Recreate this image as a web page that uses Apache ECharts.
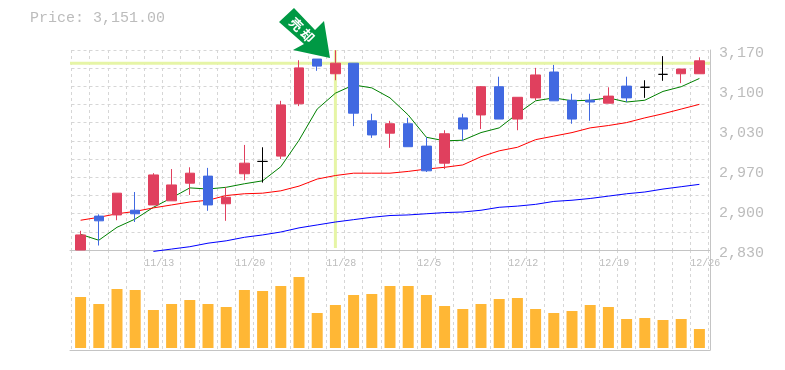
<!DOCTYPE html>
<html>
<head>
<meta charset="utf-8">
<style>
  html, body { margin: 0; padding: 0; background: #fff; }
  #chart { width: 785px; height: 370px; }
</style>
<script src="https://cdn.jsdelivr.net/npm/echarts@6/dist/echarts.min.js"></script>
</head>
<body>
<div id="chart"></div>
<script>
const dates = [
  "11/7", "11/8", "11/9", "11/10", "11/13", "11/14", "11/15", "11/16", "11/17", "11/20",
  "11/21", "11/22", "11/24", "11/27", "11/28", "11/29", "11/30", "12/1", "12/4", "12/5",
  "12/6", "12/7", "12/8", "12/11", "12/12", "12/13", "12/14", "12/15", "12/18", "12/19",
  "12/20", "12/21", "12/22", "12/25", "12/26"
];
const dateTicks = ["11/13", "11/20", "11/28", "12/5", "12/12", "12/19", "12/26"];
const priceTicks = ["2,830", "2,900", "2,970", "3,030", "3,100", "3,170"];

// open, close, low, high
const candles = [
  [2833.4, 2859, 2833.4, 2866], [2891, 2883, 2841, 2894], [2893, 2930, 2884, 2930], [2901, 2895, 2881, 2932],
  [2910, 2961, 2910, 2964], [2917, 2944, 2917, 2971], [2947, 2964, 2927, 2974], [2959, 2910, 2900, 2973],
  [2912, 2923, 2883, 2940], [2963, 2981, 2952, 3012], [2984, 2984, 2948, 3008], [2993, 3080, 2988, 3087],
  [3082, 3143, 3078, 3156], [3158, 3146, 3138, 3158], [3133, 3151, 3122, 3173], [3151, 3066, 3044, 3151],
  [3053, 3029, 3024, 3065], [3032, 3048, 3007, 3053], [3048, 3009, 3009, 3058], [3010, 2968, 2966, 3025],
  [2981, 3031, 2971, 3037], [3058, 3039, 3019, 3065], [3063, 3111, 3039, 3112], [3111, 3056, 3056, 3128],
  [3056, 3093, 3037, 3093], [3092, 3131, 3088, 3143], [3136, 3087, 3087, 3148], [3088, 3056, 3048, 3099],
  [3088, 3085, 3053, 3099], [3083, 3095, 3083, 3110], [3112, 3092, 3085, 3128], [3110, 3110, 3092, 3122],
  [3132, 3132, 3121, 3163], [3133, 3141, 3117, 3141], [3133, 3155, 3133, 3161]
];
const maShort = [
  2860, 2850, 2872, 2886, 2906, 2922, 2939, 2937, 2940, 2946, 2951, 2975, 3020, 3073, 3100, 3114, 3109, 3092,
  3063, 3025, 3019, 3020, 3033, 3041, 3065, 3087, 3092, 3087, 3088, 3092, 3085, 3088, 3103, 3111, 3125
];
const maMiddle = [
  2884, 2889, 2895, 2899, 2905, 2910, 2915, 2918, 2926, 2929, 2930, 2934, 2942, 2954, 2960, 2964, 2964, 2964,
  2967, 2971, 2974, 2978, 2992, 3002, 3008, 3021, 3027, 3033, 3041, 3045, 3050, 3058, 3065, 3073, 3081
];
const maLong = [
  null, null, null, null, 2831, 2835, 2839, 2845, 2849, 2855, 2859, 2864, 2871, 2876, 2881, 2885, 2889, 2892,
  2893, 2895, 2897, 2898, 2901, 2906, 2908, 2911, 2916, 2918, 2921, 2925, 2929, 2932, 2937, 2941, 2945
];
const volumes = [
  51, 44, 59, 58, 38, 44, 48, 44, 41, 58, 57, 62, 71, 35, 43, 53, 54, 62,
  62, 53, 42, 39, 44, 49, 50, 39, 35, 37, 43, 41, 29, 30, 28, 29, 19
];
const lastPrice = 3151;
const markedDate = "11/28";

const GRID_COLOR = "#d6d6d6";
const AXIS_COLOR = "#c4c4c4";
const TEXT_COLOR = "#bcbcbc";
const MARK_COLOR = "#e6f5a6";
const FONT = "'Liberation Mono', monospace";

const priceMin = 2833.4;
const priceMax = 3173.4;

const dashed = { show: true, lineStyle: { color: GRID_COLOR, type: [3, 3], width: 1 } };
const off = { show: false };
// one extra slot: the dashes and date labels sit on the band edges
const edges = dates.concat([""]);

function edgeAxis(gridIndex, showLabels) {
  return {
    gridIndex,
    type: "category",
    position: "bottom",
    boundaryGap: false,
    data: edges,
    axisLine: off,
    axisTick: off,
    splitLine: Object.assign({ interval: 0 }, dashed),
    axisLabel: {
      show: showLabels,
      interval: 0,
      align: "left",
      margin: 8,
      color: TEXT_COLOR,
      fontFamily: FONT,
      fontSize: 10,
      formatter: v => (dateTicks.includes(v) ? v : "")
    }
  };
}

function bandAxis(gridIndex) {
  return { gridIndex, type: "category", data: dates, show: false };
}

function frameX(gridIndex) {
  return {
    gridIndex,
    type: "value",
    min: 0,
    max: 1,
    axisLine: { show: true, onZero: false, lineStyle: { color: AXIS_COLOR, width: 1 } },
    axisTick: off,
    axisLabel: off,
    splitLine: off
  };
}

function maSeries(name, data, color) {
  return {
    name,
    type: "line",
    data,
    xAxisIndex: 0,
    yAxisIndex: 0,
    z: 2,
    clip: false,
    silent: true,
    showSymbol: false,
    animation: false,
    lineStyle: { color, width: 1 }
  };
}

const chart = echarts.init(document.getElementById("chart"), null, { renderer: "canvas" });

chart.setOption({
  animation: false,
  backgroundColor: "#fff",
  grid: [
    { left: 71.5, top: 50, width: 637, height: 200 },
    { left: 71.5, top: 250, width: 637, height: 100 },
    { left: 70, top: 50, width: 640, height: 200 },
    { left: 70, top: 250, width: 640, height: 100 }
  ],
  xAxis: [bandAxis(0), edgeAxis(0, true), bandAxis(1), edgeAxis(1, false), frameX(2), frameX(3)],
  yAxis: [
    { gridIndex: 0, type: "value", min: priceMin, max: priceMax, show: false },
    {
      gridIndex: 0,
      type: "value",
      min: 0,
      max: 11,
      interval: 1,
      axisLine: off,
      axisTick: off,
      axisLabel: off,
      splitLine: dashed
    },
    { gridIndex: 1, type: "value", min: -2, max: 98, show: false },
    {
      gridIndex: 2,
      type: "value",
      position: "right",
      min: 0,
      max: 5,
      interval: 1,
      axisLine: { show: true, onZero: false, lineStyle: { color: AXIS_COLOR, width: 1 } },
      axisTick: off,
      splitLine: off,
      axisLabel: {
        margin: 9,
        color: TEXT_COLOR,
        fontFamily: FONT,
        fontSize: 15,
        verticalAlign: "top",
        lineHeight: 6,
        formatter: (v, i) => priceTicks[i]
      }
    },
    {
      gridIndex: 3,
      type: "value",
      position: "right",
      min: 0,
      max: 1,
      axisLine: { show: true, onZero: false, lineStyle: { color: AXIS_COLOR, width: 1 } },
      axisTick: off,
      axisLabel: off,
      splitLine: off
    },
    { gridIndex: 2, type: "value", min: priceMin, max: priceMax, show: false }
  ],
  series: [
    {
      name: "price line",
      type: "line",
      xAxisIndex: 4,
      yAxisIndex: 5,
      data: [[0, lastPrice], [1, lastPrice]],
      z: 1,
      silent: true,
      showSymbol: false,
      lineStyle: { color: MARK_COLOR, width: 3 }
    },
    {
      name: "date line",
      type: "line",
      xAxisIndex: 0,
      yAxisIndex: 0,
      data: [[markedDate, priceMax], [markedDate, 2837]],
      z: 1,
      silent: true,
      showSymbol: false,
      lineStyle: { color: MARK_COLOR, width: 3 }
    },
    maSeries("short", maShort, "#008000"),
    maSeries("middle", maMiddle, "#ff0000"),
    maSeries("long", maLong, "#0000ff"),
    {
      name: "price",
      type: "candlestick",
      xAxisIndex: 0,
      yAxisIndex: 0,
      data: candles,
      barWidth: 10,
      z: 3,
      itemStyle: {
        color: "#e0405e",
        borderColor: "#e0405e",
        color0: "#4169e1",
        borderColor0: "#4169e1",
        borderColorDoji: "#000000",
        borderWidth: 1
      }
    },
    {
      name: "volume",
      type: "bar",
      xAxisIndex: 2,
      yAxisIndex: 2,
      data: volumes,
      barWidth: 11,
      z: 3,
      itemStyle: { color: "#ffb735" }
    }
  ],
  graphic: [
    {
      type: "text",
      left: 30,
      top: 11,
      style: { text: "Price: 3,151.00", fill: TEXT_COLOR, font: "15px " + FONT }
    },
    {
      type: "polygon",
      z: 10,
      shape: {
        points: [[294, 8], [279, 22], [304, 44], [293, 50], [330, 58], [324, 21], [315, 30]]
      },
      style: { fill: "#009944" }
    },
    {
      type: "text",
      z: 11,
      x: 302,
      y: 30,
      rotation: -Math.PI / 4,
      style: {
        text: "売 却",
        fill: "#fff",
        font: "bold 13px 'Noto Sans CJK JP'",
        align: "center",
        verticalAlign: "middle"
      }
    }
  ]
});
</script>
</body>
</html>
